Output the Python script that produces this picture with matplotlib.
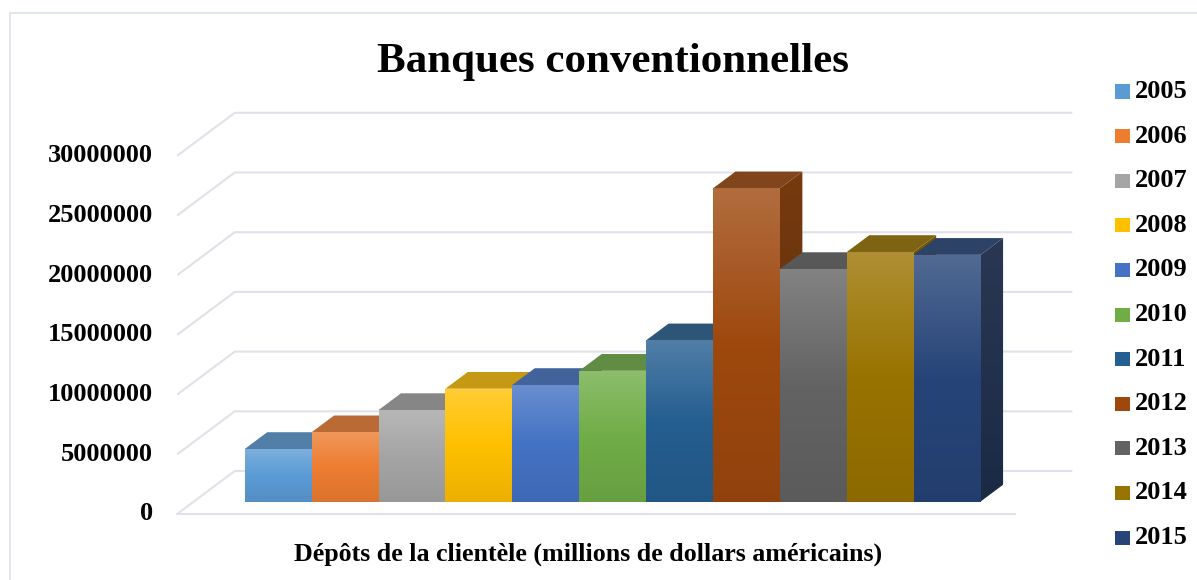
import numpy as np
import matplotlib
matplotlib.use('Agg')
import matplotlib.pyplot as plt
from matplotlib.patches import Polygon, Rectangle
from matplotlib.colors import to_rgb

years = ['2005', '2006', '2007', '2008', '2009', '2010',
         '2011', '2012', '2013', '2014', '2015']
deposits = [4400000, 5800000, 7660000, 9450000, 9760000, 10950000,
            13500000, 26230000, 19470000, 20900000, 20660000]
bar_colors = ['#5B9BD5', '#ED7D31', '#A5A5A5', '#FFC000', '#4472C4', '#70AD47',
              '#255E91', '#9E480E', '#636363', '#997300', '#264478']
y_ticks = [0, 5000000, 10000000, 15000000, 20000000, 25000000, 30000000]

title = 'Banques conventionnelles'
x_title = 'Dépôts de la clientèle (millions de dollars américains)'

plt.rcParams['font.family'] = ['Liberation Serif', 'DejaVu Serif']

# oblique 3d: depth d in [0, 1] pushes a point right (KX) and up (KV)
KX = 0.861
KV = 3.601e6
D0, D1 = 0.29, 0.68          # bar front / back depth
X_LEFT, X_RIGHT = -0.76, len(years) + 0.76
GRID = '#dfe2e8'


def proj(x, d, v):
    return (x + d * KX, v + d * KV)


def mix(c, other, t):
    c = np.array(to_rgb(c))
    return (1 - t) * c + t * np.array(to_rgb(other))


def face(ax, pts, stops, z):
    # polygon filled with a vertical gradient (stops listed top -> bottom)
    poly = Polygon(pts, closed=True, facecolor='none', edgecolor='none', zorder=z)
    ax.add_patch(poly)
    xs, ys = zip(*pts)
    n = 128
    t = np.linspace(0, 1, n)
    pos = np.linspace(0, 1, len(stops))
    stops = np.array(stops)
    grad = np.stack([np.interp(t, pos, stops[:, k]) for k in range(3)], axis=1)
    im = ax.imshow(grad[:, None, :], extent=(min(xs), max(xs), min(ys), max(ys)),
                   origin='upper', aspect='auto', zorder=z, interpolation='bilinear')
    im.set_clip_path(poly)


fig = plt.figure(figsize=(11.97, 5.80), dpi=100)
ax = fig.add_axes([0, 0, 1, 1])
ax.set_autoscale_on(False)
ax.axis('off')

# chart frame
fig.patches.append(Rectangle((9.5 / 1197, -0.05), 1.1, 1 - 12.7 / 580 + 0.05,
                             transform=fig.transFigure, fill=False,
                             edgecolor='#dde3ea', lw=1.2))

# back wall gridlines + floor
for v in y_ticks:
    p = [proj(X_LEFT, 0, v), proj(X_LEFT, 1, v), proj(X_RIGHT, 1, v)]
    ax.plot(*zip(*p), color=GRID, lw=1.5, zorder=1, solid_capstyle='butt')
    ax.text(X_LEFT - 0.36, v, f'{v}', ha='right', va='center',
            fontsize=19, fontweight='bold')
ax.plot(*zip(proj(X_LEFT, 0, 0), proj(X_RIGHT, 0, 0)), color=GRID, lw=1.5, zorder=1)

# bars, left to right so each one hides the side of the previous one
for i, (val, col) in enumerate(zip(deposits, bar_colors)):
    x0, x1 = i, i + 1
    side = [proj(x1, D0, 0), proj(x1, D0, val), proj(x1, D1, val), proj(x1, D1, 0)]
    top = [proj(x0, D0, val), proj(x1, D0, val), proj(x1, D1, val), proj(x0, D1, val)]
    front = [proj(x0, D0, 0), proj(x1, D0, 0), proj(x1, D0, val), proj(x0, D0, val)]
    z = 2 + i
    face(ax, side, [mix(col, '#302010', 0.35), mix(col, '#101010', 0.5)], z)
    face(ax, top, [mix(col, '#404040', 0.3), mix(col, '#404040', 0.3)], z)
    face(ax, front, [mix(col, 'white', 0.2), to_rgb(col), mix(col, 'black', 0.08)], z)

ax.set_xlim(-228 / 66.9, (1197 - 228) / 66.9)
ax.set_ylim(-66 / 11.94 * 1e6, 514 / 11.94 * 1e6)

fig.text(613 / 1197, 1 - 72 / 580, title, ha='center', va='baseline',
         fontsize=31, fontweight='bold')
fig.text(588 / 1197, 1 - 561 / 580, x_title, ha='center', va='baseline',
         fontsize=18.7, fontweight='bold')

# legend column
for i, (yr, col) in enumerate(zip(years, bar_colors)):
    yc = 91.5 + 44.6 * i
    fig.patches.append(Rectangle((1115 / 1197, 1 - (yc + 7) / 580), 15 / 1197, 14 / 580,
                                 transform=fig.transFigure, facecolor=col,
                                 edgecolor='none'))
    fig.text(1135 / 1197, 1 - yc / 580, yr, ha='left', va='center',
             fontsize=19, fontweight='bold')

fig.savefig('out.png', dpi=100)
